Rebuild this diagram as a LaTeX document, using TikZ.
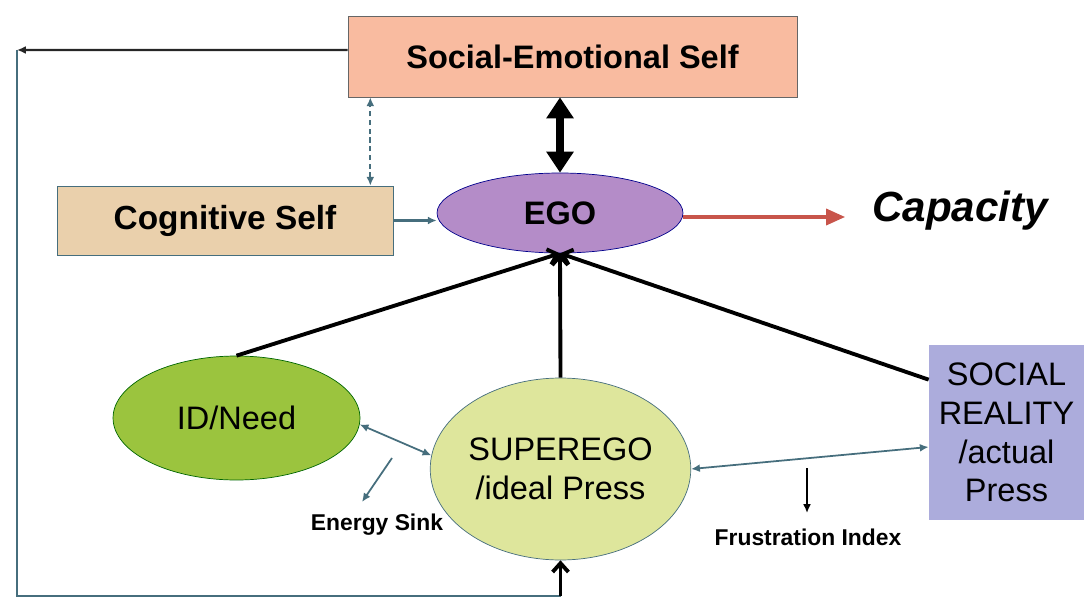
\documentclass[tikz,border=0pt]{standalone}
\usepackage{fontspec}
\setmainfont{Liberation Sans}
\usetikzlibrary{arrows.meta,shapes.geometric}

\definecolor{sesfill}{RGB}{249,187,160}
\definecolor{cogfill}{RGB}{234,208,172}
\definecolor{egofill}{RGB}{180,140,200}
\definecolor{idfill}{RGB}{155,196,62}
\definecolor{supfill}{RGB}{222,230,156}
\definecolor{srfill}{RGB}{172,172,220}
\definecolor{slate}{RGB}{70,110,125}
\definecolor{capred}{RGB}{200,85,75}

\begin{document}
\begin{tikzpicture}[x=0.02cm,y=-0.02cm,
  bigtext/.style={font=\fontsize{18.5}{22}\selectfont},
  smalltext/.style={font=\fontsize{13}{15}\selectfont\bfseries},
  box/.style={rectangle, draw, inner sep=0pt, bigtext},
  oval/.style={ellipse, draw, inner sep=0pt, align=center, bigtext},
  thinarrow/.style={draw=slate, line width=1pt, -{Latex[length=5pt,width=4.5pt]}},
  toego/.style={line width=2.2pt, -{Straight Barb[length=5pt,width=9pt]}}]
\useasboundingbox (0,0) rectangle (1084,601);

% the boxes and ovals
\node[box, fill=sesfill, draw=black!60, minimum width=8.98cm, minimum height=1.62cm, font=\fontsize{18.5}{22}\selectfont\bfseries] (ses) at (572.5,56.5) {Social-Emotional Self};
\node[box, fill=cogfill, draw=slate, minimum width=6.72cm, minimum height=1.38cm, font=\fontsize{19}{22}\selectfont\bfseries] (cog) at (225,220.5) {Cognitive Self};
\node[oval, fill=egofill, draw=blue!55!black, minimum width=4.92cm, minimum height=1.6cm, font=\fontsize{18.5}{22}\selectfont\bfseries] (ego) at (560,213) {EGO};
\node[oval, fill=idfill, draw=green!40!black, minimum width=4.94cm, minimum height=2.48cm] (id) at (236.5,418) {ID/Need};
\node[oval, fill=supfill, draw=slate, minimum width=4.9cm, minimum height=3.64cm] (sup) at (560.5,469) {SUPEREGO\\/ideal Press};
\node[rectangle, fill=srfill, inner sep=0pt, align=center, minimum width=3.1cm, minimum height=3.5cm, bigtext] (sr) at (1006.5,432.5) {SOCIAL\\REALITY\\/actual\\Press};
\node[font=\fontsize{24}{28}\selectfont\bfseries\itshape] (cap) at (960,211) {Capacity};

% small labels
\node[smalltext] (sink) at (377,525) {Energy Sink};
\node[smalltext] (frust) at (808,537) {Frustration Index};

% helper points
\coordinate (sinkA) at (392,458);
\coordinate (sinkB) at (362,502);
\coordinate (frA) at (807,468);
\coordinate (frB) at (807,513);
\coordinate (loopA) at (17,50);
\coordinate (loopB) at (17,596);
\coordinate (loopC) at (560.5,596);

% links
\draw[line width=5pt, {Triangle[length=12pt,width=15pt]}-{Triangle[length=12pt,width=15pt]}] (ego.north |- ses.south) -- (ego.north);
\draw[thinarrow, densely dashed, {Latex[length=5pt,width=4.5pt]}-{Latex[length=5pt,width=4.5pt]}] ([xshift=-0.46cm]cog.north east) -- ([xshift=-0.46cm]cog.north east |- ses.south);
\draw[thinarrow, line width=1.2pt] (cog.east) -- (cog.east -| ego.west);
\draw[capred, line width=2.4pt, -{Triangle[length=11pt,width=9pt]}] ([yshift=-0.08cm]ego.east) -- ++(162,0);
\draw[toego] (id.north) -- (ego.south);
\draw[toego] (sup.north) -- (ego.south);
\draw[toego] ([yshift=-0.7cm]sr.north west) -- (ego.south);
\draw[thinarrow, {Latex[length=5pt,width=4.5pt]}-{Latex[length=5pt,width=4.5pt]}] (id.-3) -- (sup.174);
\draw[thinarrow, {Latex[length=5pt,width=4.5pt]}-{Latex[length=5pt,width=4.5pt]}] (sup.east) -- ([yshift=-0.29cm]sr.west);
\draw[thinarrow] (sinkA) -- (sinkB);
\draw[thinarrow, draw=black] (frA) -- (frB);

% feedback loop
\draw[thinarrow, draw=black!85, line width=1.3pt] ([yshift=0.13cm]ses.west) -- (loopA);
\draw[slate, line width=1.2pt] (loopA) -- (loopB) -- (loopC);
\draw[toego] (loopC) -- (sup.south);
\end{tikzpicture}
\end{document}
